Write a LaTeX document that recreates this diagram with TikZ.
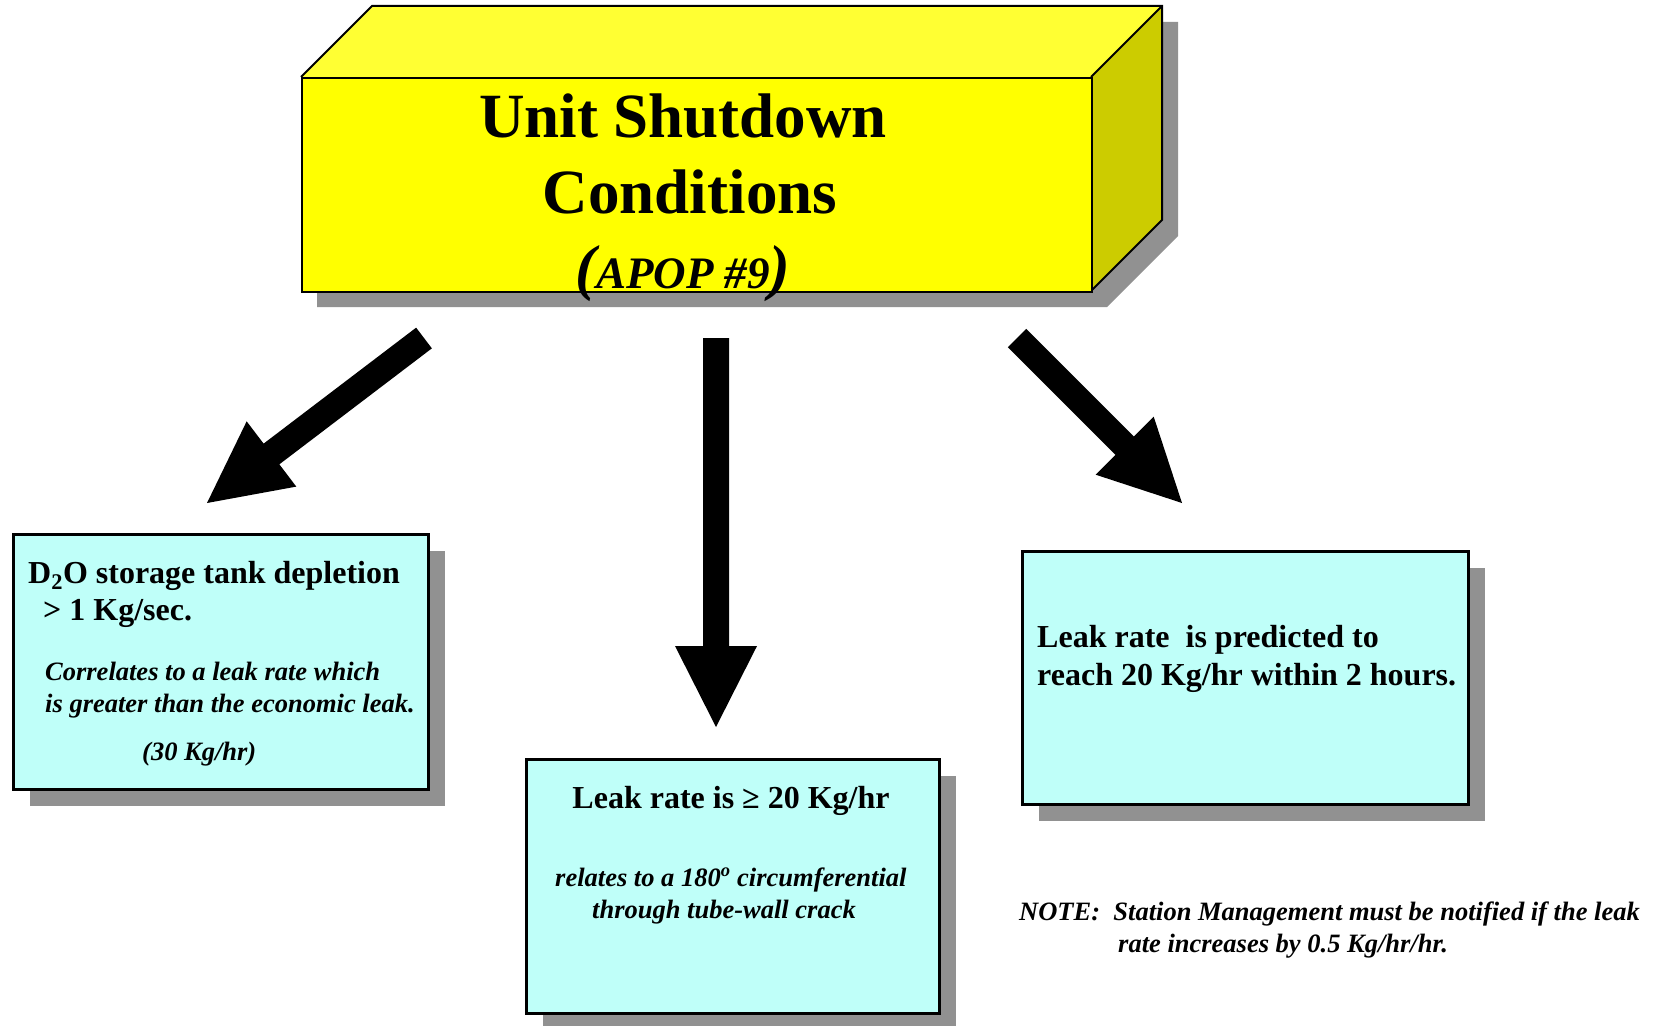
\documentclass[tikz,border=0pt]{standalone}
\usepackage{fontspec}
\setmainfont{Liberation Serif}
\usetikzlibrary{calc,shadows}

\definecolor{frontyellow}{HTML}{FFFF00}
\definecolor{topyellow}{HTML}{FFFF33}
\definecolor{sideyellow}{HTML}{CCCC00}
\definecolor{shadowgray}{HTML}{919191}
\definecolor{paleaqua}{HTML}{BFFFF9}

\tikzset{
  infobox/.style={rectangle, fill=paleaqua, draw=black, line width=2.5pt,
    anchor=north west, inner sep=0pt,
    drop shadow={shadow xshift=17pt, shadow yshift=-17pt, opacity=1, fill=shadowgray}},
  cubeline/.style={draw=black, line width=2pt, line join=miter},
  boldtext/.style={inner sep=0pt, font=\fontsize{32}{38}\selectfont\bfseries},
  slanttext/.style={inner sep=0pt, font=\fontsize{26.5}{32}\selectfont\bfseries\itshape},
  titletext/.style={inner sep=0pt, font=\fontsize{63}{76}\selectfont\bfseries},
  arrowfill/.style={fill=black},
}

% thick block arrow from a start coordinate to a tip coordinate
\newcommand\fatarrow[2]{%
  \path ($(#2)!81pt!(#1)$) coordinate (#1-base);
  \fill[arrowfill]
    ($(#1)!13pt!90:(#2)$) --
    ($(#1-base)!13pt!90:(#2)$) --
    ($(#1-base)!41pt!90:(#2)$) --
    (#2) --
    ($(#1-base)!41pt!-90:(#2)$) --
    ($(#1-base)!13pt!-90:(#2)$) --
    ($(#1)!13pt!-90:(#2)$) -- cycle;
}

\begin{document}
\begin{tikzpicture}[x=1pt, y=-1pt]
\useasboundingbox (0,0) rectangle (1661,1025);
\fill[white] (0,0) rectangle (1661,1025);

% ---- 3D title block ----
\coordinate (fTL) at (301,77);
\coordinate (fTR) at (1091,77);
\coordinate (fBR) at (1091,291);
\coordinate (fBL) at (301,291);
\coordinate (bTL) at (372,6);
\coordinate (bTR) at (1162,6);
\coordinate (bBR) at (1162,220);

% cast shadow of the whole block
\fill[shadowgray]
  (317,93) -- (388,22) -- (1178,22) -- (1178,236) -- (1107,307) -- (317,307) -- cycle;
\fill[topyellow] (fTL) -- (bTL) -- (bTR) -- (fTR) -- cycle;
\fill[sideyellow] (fTR) -- (bTR) -- (bBR) -- (fBR) -- cycle;
\draw[cubeline] (fTL) -- (bTL) -- (bTR) -- (bBR) -- (fBR);
\draw[cubeline] (fTR) -- (bTR);
\node[rectangle, fill=frontyellow, cubeline, anchor=north west, inner sep=0pt,
  minimum width=790pt, minimum height=214pt] (front) at (fTL) {};

\node[titletext, anchor=base] (title1) at (683,137) {Unit Shutdown};
\node[titletext, anchor=base] (title2) at (690,213) {Conditions};
\node[inner sep=0pt, anchor=base] (title3) at (683,288)
  {\bfseries\itshape\fontsize{62}{62}\selectfont(\fontsize{45}{45}\selectfont APOP \#9\fontsize{62}{62}\selectfont)};

% ---- arrows ----
\coordinate (leftfrom) at (424,338);
\coordinate (leftto) at (207,503);
\coordinate (midfrom) at (716,338);
\coordinate (midto) at (716,727);
\coordinate (rightfrom) at (1017,338);
\coordinate (rightto) at (1182,503);
\fatarrow{leftfrom}{leftto}
\fatarrow{midfrom}{midto}
\fatarrow{rightfrom}{rightto}

% ---- condition boxes ----
\node[infobox, minimum width=415pt, minimum height=255pt] (depletion) at (12,533) {};
\node[infobox, minimum width=413pt, minimum height=254pt] (leakrate) at (525,758) {};
\node[infobox, minimum width=446pt, minimum height=253pt] (predicted) at (1021,550) {};

% left box text
\node[boldtext, anchor=base west] (dep1) at (28,583) {D\textsubscript{2}O storage tank depletion};
\node[boldtext, anchor=base west] (dep2) at (43,620) {> 1 Kg/sec.};
\node[slanttext, anchor=base west] (dep3) at (45,680) {Correlates to a leak rate which};
\node[slanttext, anchor=base west] (dep4) at (45,712) {is greater than the economic leak.};
\node[slanttext, anchor=base west] (dep5) at (142,760) {(30 Kg/hr)};

% middle box text
\node[boldtext, anchor=base] (leak1) at (731,808) {Leak rate is ≥ 20 Kg/hr};
\node[slanttext, anchor=base west] (leak2) at (555,886) {relates to a 180\textsuperscript{o} circumferential};
\node[slanttext, anchor=base west] (leak3) at (592,918) {through tube-wall crack};

% right box text
\node[boldtext, anchor=base west] (pred1) at (1037,647) {Leak rate\ \ is predicted to};
\node[boldtext, anchor=base west] (pred2) at (1037,685) {reach 20 Kg/hr within 2 hours.};

% note
\node[slanttext, anchor=base west] (note1) at (1019,920) {NOTE:\ \ Station Management must be notified if the leak};
\node[slanttext, anchor=base west] (note2) at (1118,952) {rate increases by 0.5 Kg/hr/hr.};
\end{tikzpicture}
\end{document}
